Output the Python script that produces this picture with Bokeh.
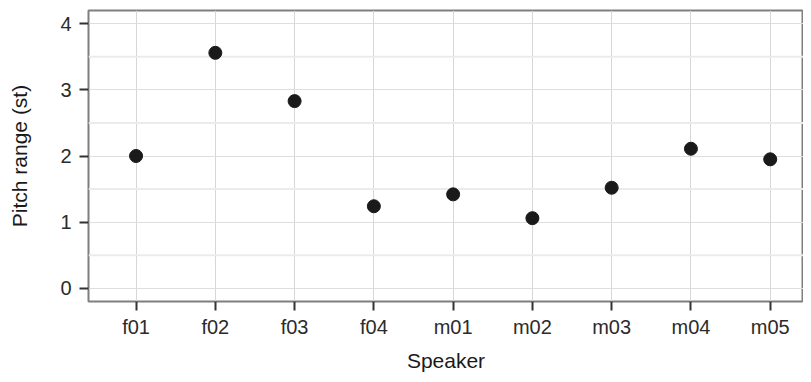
from bokeh.plotting import figure
from bokeh.models import Range1d, FixedTicker, Span
from bokeh.embed import file_html
from bokeh.resources import INLINE

speakers = ["f01", "f02", "f03", "f04", "m01", "m02", "m03", "m04", "m05"]
pitch_range = [2.00, 3.56, 2.83, 1.24, 1.42, 1.06, 1.52, 2.11, 1.95]
y_ticks = [0, 1, 2, 3, 4]
y_minor = [0.5, 1.5, 2.5, 3.5]

xs = list(range(1, len(speakers) + 1))

p = figure(width=803, height=374, output_backend="svg", toolbar_location=None,
           x_range=Range1d(0.4, 9.42), y_range=Range1d(-0.2, 4.2),
           min_border_left=88, min_border_right=0, min_border_top=10,
           min_border_bottom=72)

FONT = "Liberation Sans"
p.background_fill_color = "white"
p.border_fill_color = "white"
p.outline_line_color = "#7f7f7f"
p.outline_line_width = 2

# grids
p.xgrid.ticker = FixedTicker(ticks=xs)
p.xgrid.grid_line_color = "#d6d6d6"
p.xgrid.grid_line_width = 1
p.ygrid.ticker = FixedTicker(ticks=y_ticks)
p.ygrid.grid_line_color = "#dedede"
p.ygrid.grid_line_width = 1
for v in y_minor:
    p.add_layout(Span(location=v, dimension="width", line_color="#ebebeb", line_width=2, level="underlay"))

p.xaxis.ticker = FixedTicker(ticks=xs)
p.xaxis.major_label_overrides = {x: s for x, s in zip(xs, speakers)}
p.yaxis.ticker = FixedTicker(ticks=y_ticks)

for ax in (p.xaxis[0], p.yaxis[0]):
    ax.axis_line_color = None
    ax.major_tick_line_color = "#333333"
    ax.major_tick_line_width = 2
    ax.major_tick_out = 9
    ax.major_tick_in = 0
    ax.minor_tick_line_color = None
    ax.major_label_text_font = FONT
    ax.major_label_text_font_size = "20px"
    ax.major_label_text_color = "#2b2b2b"
    ax.axis_label_text_font = FONT
    ax.axis_label_text_font_size = "21px"
    ax.axis_label_text_font_style = "normal"
    ax.axis_label_text_color = "#1a1a1a"

p.xaxis.major_label_standoff = 5
p.yaxis.major_label_standoff = 8
p.xaxis.axis_label = "Speaker"
p.yaxis.axis_label = "Pitch range (st)"
p.xaxis.axis_label_standoff = 8
p.yaxis.axis_label_standoff = 26

p.scatter(xs, pitch_range, size=13, color="#1a1a1a")

open("out.html", "w").write(file_html(p, INLINE))
